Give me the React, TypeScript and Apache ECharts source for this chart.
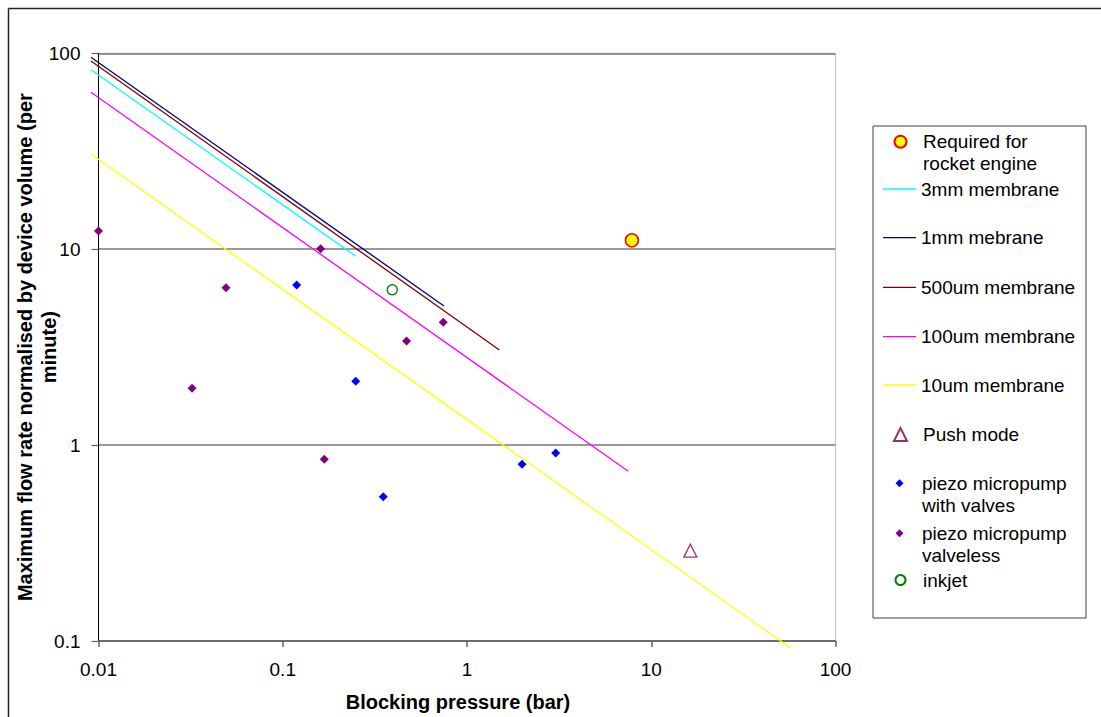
import React, { useEffect, useRef } from "react";
import * as echarts from "echarts";

const FONT = "'Liberation Sans', Arial, Helvetica, sans-serif";

// Axis ranges
const xRange = [0.01, 100];
const yRange = [0.1, 100];

// Series data [blocking pressure (bar), flow rate (per minute)]
const rocketEngine = [[7.85, 11.1]];
const membrane3mm = [[0.0091, 82.5], [0.249, 9.2]];
const membrane1mm = [[0.0091, 95.4], [0.75, 5.13]];
const membrane500um = [[0.0091, 91.3], [1.5, 3.06]];
const membrane100um = [[0.0091, 63.2], [7.5, 0.735]];
const membrane10um = [[0.0091, 30.6], [57.2, 0.092]];
const pushMode = [[16.3, 0.289]];
const piezoValves = [[0.119, 6.57], [0.249, 2.12], [0.351, 0.545], [1.99, 0.798], [3.03, 0.911]];
const piezoValveless = [[0.01, 12.4], [0.0322, 1.95], [0.0492, 6.36], [0.1605, 10.06], [0.168, 0.846], [0.47, 3.4], [0.743, 4.24]];
const inkjet = [[0.393, 6.21]];

const names = {
  rocket: "Required for rocket engine",
  m3: "3mm membrane",
  m1: "1mm mebrane",
  m500: "500um membrane",
  m100: "100um membrane",
  m10: "10um membrane",
  push: "Push mode",
  valves: "piezo micropump with valves",
  valveless: "piezo micropump valveless",
  inkjet: "inkjet",
};

const LEG_TEXT = { fontFamily: FONT, fontSize: 19, color: "#000", lineHeight: 22 };
const LINE_ICON = "path://M0,0H33V1.3H0Z";

function lineLegend(name: string, cy: number) {
  return {
    data: [{ name, icon: LINE_ICON }],
    left: 883,
    top: cy - 11,
    itemWidth: 33,
    itemHeight: 14,
    padding: 0,
    selectedMode: false,
    textStyle: { ...LEG_TEXT },
  };
}

function symLegend(name: string, cy: number, s: number, label?: string) {
  const padL = 17.5 - s / 2;
  const two = !!label;
  return {
    data: [name],
    left: 899.5 - s / 2,
    top: cy - (two ? 33 : 11),
    itemWidth: s,
    itemHeight: s,
    padding: 0,
    selectedMode: false,
    formatter: label ? "\n" + label : "{name}",
    textStyle: { ...LEG_TEXT, padding: [0, 0, 0, padL] },
  };
}

function fmt(v: number) {
  return String(Number(v.toPrecision(6)));
}

export default function App() {
  const ref = useRef<HTMLDivElement>(null);
  useEffect(() => {
    if (!ref.current) return;
    const chart = echarts.init(ref.current, undefined, { renderer: "svg" });
    const membraneSeries = (name: string, data: number[][], color: string) => ({
      name,
      type: "custom",
      coordinateSystem: "cartesian2d",
      clip: false,
      z: 2,
      data,
      encode: { x: 0, y: 1 },
      itemStyle: { color },
      renderItem: (params: any, api: any) => {
        if (params.dataIndex !== 0) return null;
        const pts = data.map((d) => api.coord(d));
        return {
          type: "polyline",
          silent: true,
          shape: { points: pts },
          style: { stroke: color, lineWidth: 1.3, fill: null },
        };
      },
    });
    chart.setOption({
      animation: false,
      backgroundColor: "#fff",
      textStyle: { fontFamily: FONT },
      grid: {
        left: 98.5,
        top: 53.3,
        width: 737,
        height: 587.7,
        show: true,
        borderColor: "#c0c0c0",
        borderWidth: 1,
        backgroundColor: "transparent",
        outerBoundsMode: "none",
        containLabel: false,
      },
      xAxis: {
        type: "log",
        logBase: 10,
        min: xRange[0],
        max: xRange[1],
        name: "Blocking pressure (bar)",
        nameLocation: "middle",
        nameGap: 51,
        nameMoveOverlap: false,
        nameTextStyle: { fontFamily: FONT, fontSize: 20, fontWeight: "bold", color: "#000", padding: [0, 18, 0, 0] },
        axisLine: { show: true, lineStyle: { color: "#606060", width: 1.5 } },
        axisTick: { show: true, length: 6, lineStyle: { color: "#606060", width: 1.5 } },
        minorTick: { show: false },
        splitLine: { show: false },
        axisLabel: { margin: 19, fontFamily: FONT, fontSize: 19, color: "#000", formatter: fmt, showMinLabel: true, showMaxLabel: true },
      },
      yAxis: {
        type: "log",
        logBase: 10,
        min: yRange[0],
        max: yRange[1],
        name: "Maximum flow rate normalised by device volume (per\nminute)",
        nameLocation: "middle",
        nameGap: 38,
        nameMoveOverlap: false,
        nameTextStyle: { fontFamily: FONT, fontSize: 20, fontWeight: "bold", color: "#000", lineHeight: 24, align: "center" },
        axisLine: { show: true, lineStyle: { color: "#000", width: 1 } },
        axisTick: { show: true, length: 7, lineStyle: { color: "#606060", width: 1.2 } },
        splitLine: { show: true, lineStyle: { color: "#777", width: 1.6 } },
        axisLabel: { margin: 18, fontFamily: FONT, fontSize: 19, color: "#000", formatter: fmt, showMinLabel: true, showMaxLabel: true },
      },
      legend: [
        symLegend(names.rocket, 141.7, 12, "Required for\nrocket engine"),
        lineLegend(names.m3, 189),
        lineLegend(names.m1, 237.7),
        lineLegend(names.m500, 287.3),
        lineLegend(names.m100, 336.7),
        lineLegend(names.m10, 385),
        symLegend(names.push, 434.5, 13),
        symLegend(names.valves, 483.3, 8, "piezo micropump\nwith valves"),
        symLegend(names.valveless, 533.3, 8, "piezo micropump\nvalveless"),
        symLegend(names.inkjet, 580, 10),
      ],
      graphic: [
        { type: "line", shape: { x1: 8.5, y1: 8.5, x2: 1101, y2: 8.5 }, style: { stroke: "#222", lineWidth: 1.5 }, silent: true },
        { type: "line", shape: { x1: 8.5, y1: 8.5, x2: 8.5, y2: 717 }, style: { stroke: "#222", lineWidth: 1.5 }, silent: true },
        { type: "rect", shape: { x: 873, y: 126, width: 213, height: 492 }, style: { fill: "none", stroke: "#404040", lineWidth: 1 }, silent: true, z: -1 },
      ],
      series: [
        {
          name: names.rocket,
          type: "scatter",
          data: rocketEngine,
          symbol: "circle",
          symbolSize: 13,
          z: 3,
          itemStyle: { color: "#FFFF00", borderColor: "#FF0000", borderWidth: 1.5, opacity: 1 },
        },
        membraneSeries(names.m3, membrane3mm, "#00FFFF"),
        membraneSeries(names.m1, membrane1mm, "#000080"),
        membraneSeries(names.m500, membrane500um, "#800000"),
        membraneSeries(names.m100, membrane100um, "#FF00FF"),
        membraneSeries(names.m10, membrane10um, "#FFFF00"),
        {
          name: names.push,
          type: "scatter",
          data: pushMode,
          symbol: "triangle",
          symbolSize: 13,
          z: 3,
          itemStyle: { color: "rgba(0,0,0,0)", borderColor: "#993366", borderWidth: 1.3, opacity: 1 },
        },
        {
          name: names.valves,
          type: "scatter",
          data: piezoValves,
          symbol: "diamond",
          symbolSize: 9,
          z: 3,
          itemStyle: { color: "#0000FF", opacity: 1 },
        },
        {
          name: names.valveless,
          type: "scatter",
          data: piezoValveless,
          symbol: "diamond",
          symbolSize: 9,
          z: 3,
          itemStyle: { color: "#800080", opacity: 1 },
        },
        {
          name: names.inkjet,
          type: "scatter",
          data: inkjet,
          symbol: "circle",
          symbolSize: 10,
          z: 3,
          itemStyle: { color: "rgba(0,0,0,0)", borderColor: "#008000", borderWidth: 1.3, opacity: 1 },
        },
      ],
    });
    return () => chart.dispose();
  }, []);
  return <div ref={ref} style={{ position: "fixed", left: 0, top: 0, width: 1101, height: 717 }} />;
}
